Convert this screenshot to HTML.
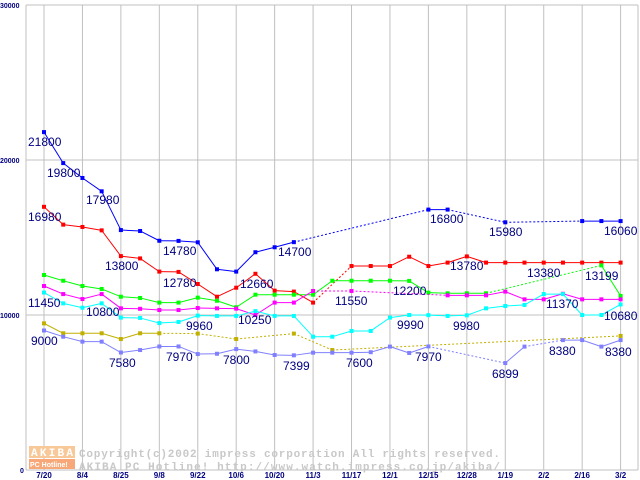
<!DOCTYPE html>
<html><head><meta charset="utf-8"><style>
html,body{margin:0;padding:0;background:#fff;}
svg{display:block;}
</style></head><body>
<svg id="chart" width="640" height="480" xmlns="http://www.w3.org/2000/svg">
<rect x="0" y="0" width="640" height="480" fill="#fff"/>
<g id="grid"></g>
<g id="watermark">
 <rect x="29" y="446" width="46" height="12" fill="#f8c898"/>
 <text x="31" y="456" font-family="Liberation Mono, monospace" font-size="11" font-weight="bold" fill="#fff" textLength="42">AKIBA</text>
 <rect x="29" y="459" width="46" height="10" fill="#f8a878"/>
 <text x="30" y="467" font-family="Liberation Sans, sans-serif" font-size="7" font-weight="bold" fill="#fff">PC Hotline!</text>
 <text x="79" y="457" font-family="Liberation Mono, monospace" font-size="11" font-weight="bold" fill="#c8c8c8" textLength="421">Copyright(c)2002 impress corporation All rights reserved.</text>
 <text x="79" y="470" font-family="Liberation Mono, monospace" font-size="11" font-weight="bold" fill="#c8c8c8" textLength="421">AKIBA PC Hotline!  http://www.watch.impress.co.jp/akiba/</text>
</g>
<g id="series"></g>
<g id="labels"></g>
<g id="axes"></g>
</svg>
<script>
const xTickLabels = ["7/20","8/4","8/25","9/8","9/22","10/6","10/20","11/3","11/17","12/1","12/15","12/28","1/19","2/2","2/16","3/2"];
const yTicks = [0,10000,20000,30000];
const N = null;
const blue     = [21800,19800,18840,17980,15480,15420,14790,14780,14690,12950,12800,14050,14370,14700,N,N,N,N,N,N,16800,16800,N,N,15980,N,N,N,16060,16060,16060];
const red      = [16980,15830,15680,15460,13800,13650,12800,12780,12000,11180,11760,12660,11570,11510,10800,N,13160,13160,13160,13760,13160,13380,13780,13380,13380,13380,13380,13380,13380,13380,13380];
const green    = [12580,12210,11870,11680,11180,11100,10800,10800,11120,10920,10500,11310,11310,11310,11310,12210,12210,12210,12210,12200,11440,11400,11400,11400,N,N,N,N,N,13199,11230];
const magenta  = [11870,11350,11030,11350,10430,10400,10320,10320,10450,10430,10410,10000,10800,10800,11550,N,11550,N,N,N,N,11270,11270,11270,11510,11010,11010,11370,11010,11010,11010];
const cyan     = [11450,10750,10470,10750,9830,9810,9480,9550,9960,9940,9940,10250,9940,9940,8600,8600,8970,8970,9830,10000,9990,9940,9980,10430,10580,10650,11350,11350,10000,10000,10680];
const olive    = [9460,8820,8820,8820,8450,8820,8820,N,8800,N,8450,N,N,8800,N,7740,N,N,N,N,N,N,N,N,N,N,N,N,N,N,8650];
const lavender = [9000,8600,8280,8280,7580,7740,7970,7970,7480,7500,7800,7650,7420,7399,7570,7570,7570,7600,7960,7550,7970,N,N,N,6899,7960,N,8380,8380,7960,8380];
const seriesColors = ["#0000ff","#ff0000","#00ff00","#ff00ff","#00ffff","#c0b000","#8080ff"];
const seriesNames = ["blue","red","green","magenta","cyan","olive","lavender"];
const labelTexts = ["21800","19800","17980","16980","13800","14780","12780","14700","12660","11450","10800","9960","10250","9000","7580","7970","7800","7399","11550","12200","7600","9990","7970","16800","9980","13780","15980","6899","13380","8380","11370","13199","16060","10680","8380"];
const labelPos = [[28,141],[47,172],[86,199],[28,216],[105,265],[163,250],[163,282],[278,251],[240,283],[28,302],[86,311],[186,325],[238,319],[31,340],[109,362],[166,356],[223,359],[283,365],[335,300],[393,290],[346,362],[397,324],[415,356],[430,218],[453,325],[450,265],[489,231],[492,373],[527,272],[549,350],[546,303],[585,275],[604,230],[604,315],[605,351]];

const NS="http://www.w3.org/2000/svg";
const L=26,R=638,T=5,B=470;
const X0=44, DX=19.22;
function xs(i){return X0+i*DX;}
function ys(v){return B-(v/30000)*(B-T);}
function mk(tag,attrs,parent){const e=document.createElementNS(NS,tag);for(const k in attrs)e.setAttribute(k,attrs[k]);parent.appendChild(e);return e;}
const grid=document.getElementById('grid'),axes=document.getElementById('axes'),sg=document.getElementById('series'),lg=document.getElementById('labels');
xTickLabels.forEach((t,k)=>{
  const x=xs(k*2);
  const gl=mk('line',{x1:x,x2:x,y1:T,y2:B,stroke:'#c0c0c0','stroke-width':1},grid);
  
  
  const tx=mk('text',{x:x,y:478,'text-anchor':'middle','font-family':'Liberation Sans, sans-serif','font-size':8,'font-weight':'bold',fill:'#000080'},axes);
  tx.textContent=t;
  
  
});
yTicks.forEach(v=>{
  const y=ys(v);
  const gl=mk('line',{x1:L,x2:R,y1:y,y2:y,stroke:'#c0c0c0','stroke-width':1},grid);
  
  
  const tx=mk('text',{x:v===0?20:0,y:y+3,'font-family':'Liberation Sans, sans-serif','font-size':7,'font-weight':'bold',fill:'#000080'},axes);
  tx.textContent=String(v);
  
  
});
const ax1=mk('line',{x1:L,x2:L,y1:T,y2:B,stroke:'#c0c0c0','stroke-width':1},grid);


const ax2=mk('line',{x1:R,x2:R,y1:T,y2:B,stroke:'#c0c0c0','stroke-width':1},grid);



[blue,red,green,magenta,cyan,olive,lavender].forEach((arr,si)=>{
  const c=seriesColors[si];
  const g=mk('g',{},sg);
  
  
  let prev=-1;
  for(let i=0;i<arr.length;i++){
    if(arr[i]===null)continue;
    if(prev>=0){
      const a={x1:xs(prev),y1:ys(arr[prev]),x2:xs(i),y2:ys(arr[i]),stroke:c,'stroke-width':1};
      if(i-prev>1)a['stroke-dasharray']='2,2';
      const ln=mk('line',a,g);
      
      
    }
    prev=i;
  }
  arr.forEach((v,i)=>{
    if(v===null)return;
    const p=mk('rect',{x:xs(i)-2,y:ys(v)-2,width:4,height:4,fill:c},g);
    
    
  });
});
labelTexts.forEach((t,k)=>{
  const tx=mk('text',{x:labelPos[k][0],y:labelPos[k][1]+5,'font-family':'Liberation Sans, sans-serif','font-size':12,fill:'#000080'},lg);
  tx.textContent=t;
  
  
});
</script>
</body></html>
